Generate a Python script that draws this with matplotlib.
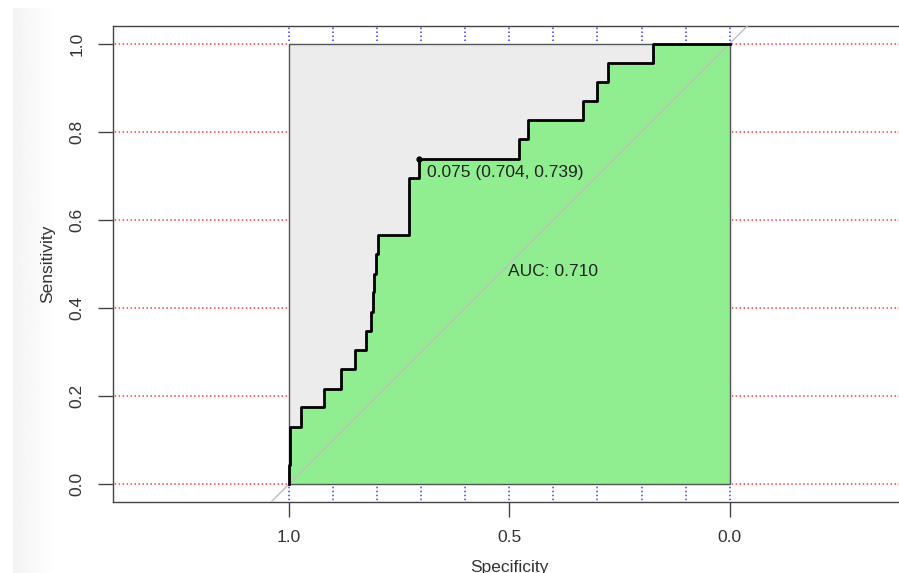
import numpy as np
import matplotlib
matplotlib.use('Agg')
import matplotlib.pyplot as plt

plt.rcParams['font.family'] = ['Liberation Sans', 'DejaVu Sans']

# ROC curve vertices (specificity, sensitivity)
spec = [1.000, 1.000, 0.997, 0.997, 0.973, 0.973, 0.921, 0.921, 0.881, 0.881,
        0.850, 0.850, 0.825, 0.825, 0.813, 0.813, 0.810, 0.810, 0.807, 0.807,
        0.803, 0.803, 0.798, 0.798, 0.727, 0.727, 0.704, 0.704, 0.478, 0.478,
        0.457, 0.457, 0.333, 0.333, 0.302, 0.302, 0.277, 0.277, 0.174, 0.174,
        0.000]
sens = [0.000, 0.043, 0.043, 0.130, 0.130, 0.174, 0.174, 0.217, 0.217, 0.261,
        0.261, 0.304, 0.304, 0.348, 0.348, 0.391, 0.391, 0.435, 0.435, 0.478,
        0.478, 0.522, 0.522, 0.565, 0.565, 0.696, 0.696, 0.739, 0.739, 0.783,
        0.783, 0.826, 0.826, 0.870, 0.870, 0.913, 0.913, 0.957, 0.957, 1.000,
        1.000]

best_thr = 0.075
best_spec = 0.704
best_sens = 0.739
auc = 0.710

x_ticks = [1.0, 0.5, 0.0]
y_ticks = [0.0, 0.2, 0.4, 0.6, 0.8, 1.0]
grid_x = np.arange(0, 11) / 10
grid_y = np.arange(0, 6) / 5

fig = plt.figure(figsize=(8.99, 5.73), dpi=100)

# faint screenshot shading on the left edge
bg = fig.add_axes([13/899, 0, 45/899, 1 - 8/573])
grad = np.linspace(0.955, 1.0, 50).reshape(1, -1)
bg.imshow(grad, cmap='gray', vmin=0, vmax=1, aspect='auto')
bg.axis('off')

ax = fig.add_axes([112.7/899, 71.3/573, 793.3/899, 475.7/573])
ax.set_xlim(1.4, -0.4)
ax.set_ylim(-0.04, 1.04)

# grid (only visible outside the unit square)
dots = (0, (1, 1.6))
ax.hlines(grid_y, 1.005, 1.5, color='#ff4040', linestyle=dots, linewidth=1.1, zorder=1)
ax.hlines(grid_y, -0.5, -0.005, color='#ff4040', linestyle=dots, linewidth=1.1, zorder=1)
ax.vlines(grid_x, -0.1, -0.005, color='#3c3cff', linestyle=dots, linewidth=1.1, zorder=1)
ax.vlines(grid_x, 1.005, 1.1, color='#3c3cff', linestyle=dots, linewidth=1.1, zorder=1)

# max auc polygon
ax.fill([1, 1, 0, 0], [0, 1, 1, 0], color='#ececec', zorder=2)
# auc polygon
ax.fill_between(spec, sens, 0, color='#90ee90', linewidth=0, zorder=3)
ax.plot([1, 1, 0, 0, 1], [0, 1, 1, 0, 0], color='#555555', linewidth=1, zorder=4)

# identity line
ax.plot([1.5, -0.5], [-0.5, 1.5], color='#bebebe', linewidth=1, zorder=4)

ax.plot(spec, sens, color='black', linewidth=2, zorder=5)
ax.plot([best_spec], [best_sens], 'o', color='black', markersize=3.5, zorder=6)

ax.text(best_spec - 0.017, best_sens - 0.015,
        '{:.3f} ({:.3f}, {:.3f})'.format(best_thr, best_spec, best_sens),
        ha='left', va='top', fontsize=12.5, color='#222222', zorder=7)
ax.text(0.4, 0.483, 'AUC: {:.3f}'.format(auc), ha='center', va='center',
        fontsize=12.5, color='#222222', zorder=7)

for s in ax.spines.values():
    s.set_color('#444444')
    s.set_linewidth(1)

ax.set_xticks(x_ticks)
ax.set_xticklabels(['1.0', '0.5', '0.0'])
ax.set_yticks(y_ticks)
ax.set_yticklabels(['0.0', '0.2', '0.4', '0.6', '0.8', '1.0'])
ax.tick_params(axis='both', length=10.5, width=1, color='#444444',
               labelsize=12.5, labelcolor='#333333', pad=10)
ax.tick_params(axis='y', labelrotation=90)
for lab in ax.get_yticklabels():
    lab.set_va('center')

ax.set_xlabel('Specificity', fontsize=12.5, color='#333333')
ax.xaxis.set_label_coords(0.5, -0.122)
ax.set_ylabel('Sensitivity', fontsize=12.5, color='#333333')
ax.yaxis.set_label_coords(-0.072, 0.5)

plt.savefig('out.png', dpi=100)
plt.close()
